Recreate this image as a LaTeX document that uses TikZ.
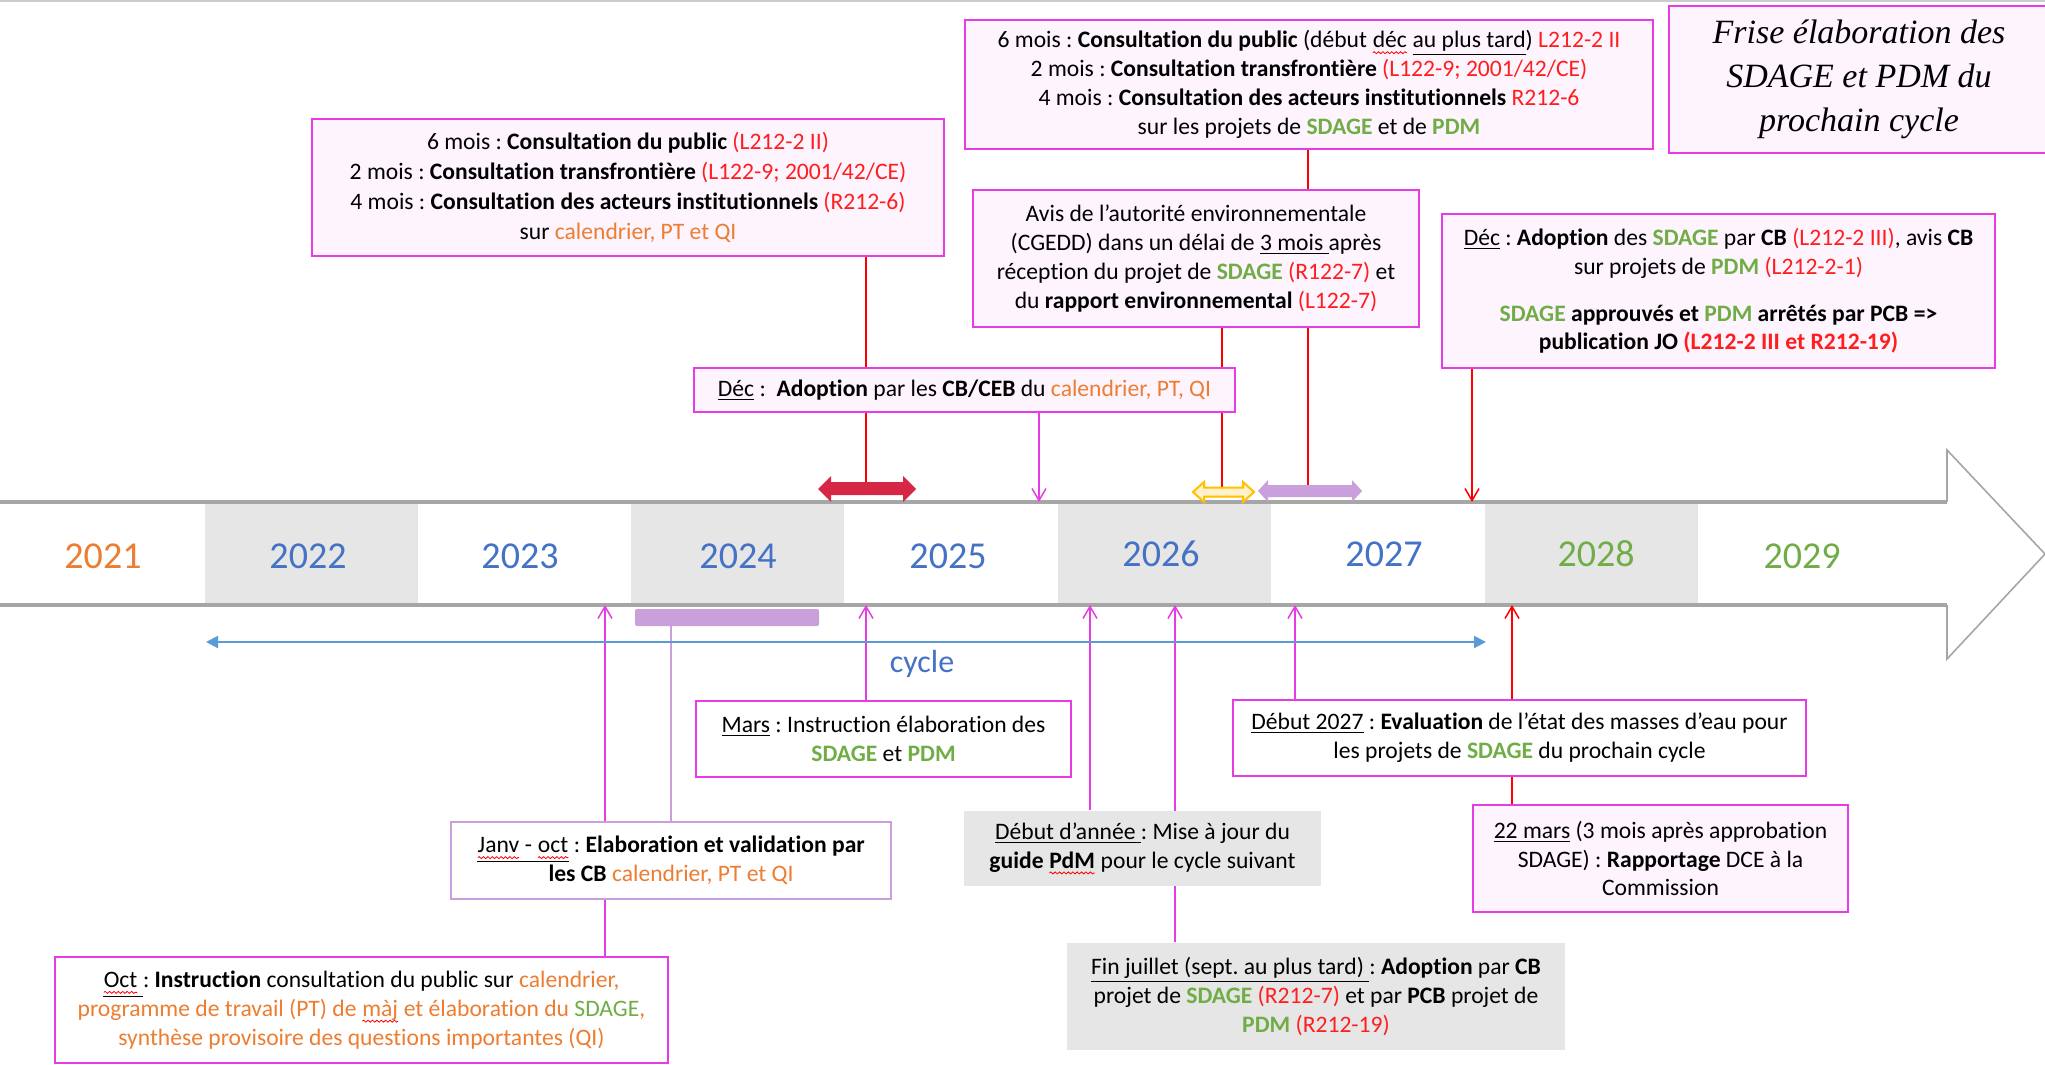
\documentclass[tikz,border=0pt]{standalone}
\usepackage{fontspec}
\setmainfont{Carlito}[Ligatures=NoCommon]
\newfontfamily\titlefont{Liberation Serif}
\usetikzlibrary{arrows.meta,backgrounds,decorations.pathmorphing}
\frenchspacing
\definecolor{mag}{RGB}{230,60,230}
\definecolor{pinkf}{RGB}{253,244,253}
\definecolor{redr}{RGB}{255,0,0}
\definecolor{txtred}{RGB}{255,30,30}
\definecolor{orng}{RGB}{237,125,49}
\definecolor{grn}{RGB}{112,173,71}
\definecolor{blu}{RGB}{68,114,196}
\definecolor{cyc}{RGB}{91,155,213}
\definecolor{cellg}{RGB}{231,230,230}
\definecolor{bandg}{RGB}{166,166,166}
\definecolor{lpurp}{RGB}{201,160,220}
\definecolor{crim}{RGB}{214,40,68}
\definecolor{ylw}{RGB}{255,192,0}
\definecolor{ylwf}{RGB}{255,242,204}
\newcommand\xred[1]{\textcolor{txtred}{#1}}
\newcommand\xorg[1]{\textcolor{orng}{#1}}
\newcommand\xgrn[1]{\textcolor{grn}{\textbf{#1}}}
\newcommand\xwavy[1]{\tikz[baseline=(w.base)]{\node[inner sep=0pt, outer sep=0pt, minimum width=0pt, minimum height=0pt, draw=none, fill=none, rectangle] (w) {#1};
  \draw[redr, line width=0.4pt, fill=none, decorate, decoration={snake, amplitude=0.5pt, segment length=2.2pt}]
   ([yshift=-2.4pt]w.base west) -- ([yshift=-2.4pt]w.base east);}}
\begin{document}
\begin{tikzpicture}[x=0.5pt,y=-0.5pt,
  box/.style={draw=mag, line width=1pt, fill=pinkf, inner sep=0pt, align=center,
    font=\fontsize{11.8}{14.4}\selectfont},
  wbox/.style={box, fill=white},
  gbox/.style={box, draw=none, fill=cellg},
  yearlbl/.style={font=\fontsize{19}{19}\selectfont, inner sep=0pt},
  magarr/.style={draw=mag, line width=0.75pt, -{Straight Barb[length=6pt,width=7pt]}},
  redarr/.style={draw=redr, line width=0.75pt, -{Straight Barb[length=6pt,width=7pt]}},
  redln/.style={draw=redr, line width=0.75pt},
  purln/.style={draw=lpurp, line width=0.75pt}]
\useasboundingbox (0,0) rectangle (2045,1065);
\begin{scope}[on background layer]
\fill[white] (0,0) rectangle (2045,1065);
\draw[line width=1pt, black!20] (0,1) -- (2045,1);
% ---- timeline band ----
\fill[white] (0,502) -- (1947,502) -- (1947,450) -- (2045,554) -- (1947,659) -- (1947,605) -- (0,605) -- cycle;
\foreach \a in {205,631,1058,1485} { \fill[cellg] (\a,504) rectangle ++(213,99); }
\draw[bandg, line width=0.8pt] (1947,502) -- (1947,450) -- (2045,554) -- (1947,659) -- (1947,605);
\draw[bandg, line width=2pt] (0,502) -- (1947,502);
\draw[bandg, line width=2pt] (0,605) -- (1947,605);
\end{scope}

\node[yearlbl, text=orng] (y2021) at (103,556) {2021};
\node[yearlbl, text=blu] (y2022) at (308,556) {2022};
\node[yearlbl, text=blu] (y2023) at (520,556) {2023};
\node[yearlbl, text=blu] (y2024) at (738,556) {2024};
\node[yearlbl, text=blu] (y2025) at (948,556) {2025};
\node[yearlbl, text=blu] (y2026) at (1161,554) {2026};
\node[yearlbl, text=blu] (y2027) at (1384,554) {2027};
\node[yearlbl, text=grn] (y2028) at (1596,554) {2028};
\node[yearlbl, text=grn] (y2029) at (1802,556) {2029};

% timeline attachment points
\coordinate (tE) at (1039,502);
\coordinate (tD) at (1472,502);
\coordinate (bK) at (605,605);
\coordinate (bF) at (866,605);
\coordinate (bI) at (1090,605);
\coordinate (bL) at (1175,605);
\coordinate (bG) at (1295,605);
\coordinate (bJ) at (1512,605);
\coordinate (bH) at (671,626);
\coordinate (redA) at (866,483);
\coordinate (ylwA) at (1222,488);
\coordinate (purA) at (1308,486);
\coordinate (cycL) at (206,642);
\coordinate (cycR) at (1486,642);

% ---- cycle ----
\draw[cyc, line width=1pt, {Triangle[length=6pt,width=6pt]}-{Triangle[length=6pt,width=6pt]}] (cycL) -- (cycR);
\node[font=\fontsize{16}{16}\selectfont, text=blu, inner sep=0pt] (cyc) at (922,664) {cycle};

% purple bar
\node[fill=lpurp, minimum width=92pt, minimum height=8.5pt, inner sep=0pt, rounded corners=1pt] (pbar) at (727,617.5) {};

% ---- block arrows ----
\fill[crim] (818,489) -- (831,476) -- (831,482) -- (903,482) -- (903,476) -- (916,489) -- (903,502) -- (903,495) -- (831,495) -- (831,502) -- cycle;
\filldraw[fill=ylwf, draw=ylw, line width=1pt] (1193,492) -- (1204,482) -- (1204,487.5) -- (1243,487.5) -- (1243,482) -- (1254,492) -- (1243,502) -- (1243,496.5) -- (1204,496.5) -- (1204,502) -- cycle;
\fill[lpurp] (1258,491) -- (1268,480) -- (1268,485) -- (1352,485) -- (1352,480) -- (1362,491) -- (1352,502) -- (1352,497) -- (1268,497) -- (1268,502) -- cycle;

% ---- boxes ----
\path
 (628,187.5) node[box, minimum width=316pt, minimum height=68.5pt, font=\fontsize{11.8}{15}\selectfont] (A) {6 mois : \textbf{Consultation du public} \xred{(L212-2 II)}\\
2 mois : \textbf{Consultation transfrontière} \xred{(L122-9; 2001/42/CE)}\\
4 mois : \textbf{Consultation des acteurs institutionnels} \xred{(R212-6)}\\
sur \xorg{calendrier, PT et QI}}
 (1309,84.5) node[box, minimum width=344pt, minimum height=64.5pt] (B) {6 mois : \textbf{Consultation du public} (début \xwavy{déc} \underline{au plus tard}) \xred{L212-2 II}\\
2 mois : \textbf{Consultation transfrontière} \xred{(L122-9; 2001/42/CE)}\\
4 mois : \textbf{Consultation des acteurs institutionnels} \xred{R212-6}\\
sur les projets de \xgrn{SDAGE} et de \xgrn{PDM}}
 (1196,258.5) node[box, minimum width=223pt, minimum height=68.5pt] (C) {Avis de l’autorité environnementale\\
(CGEDD) dans un délai de \underline{3 mois\ }après\\
réception du projet de \xgrn{SDAGE} \xred{(R122-7)} et\\
du \textbf{rapport environnemental} \xred{(L122-7)}}
 (1718.5,291) node[box, minimum width=276.5pt, minimum height=77pt] (D) {\underline{Déc} : \textbf{Adoption} des \xgrn{SDAGE} par \textbf{CB} \xred{(L212-2 III)}, avis \textbf{CB}\\
sur projets de \xgrn{PDM} \xred{(L212-2-1)}\\[9pt]
\textbf{\xgrn{SDAGE} approuvés et \xgrn{PDM} arrêtés par PCB =>}\\
\textbf{publication JO \xred{(L212-2 III et R212-19)}}}
 (964.5,390) node[box, minimum width=270.5pt, minimum height=22pt] (E) {\underline{Déc} :\ \ \textbf{Adoption} par les \textbf{CB/CEB} du \xorg{calendrier, PT, QI}}
 (1859,79.5) node[box, minimum width=190pt, minimum height=73.5pt, font=\titlefont\itshape\fontsize{17}{22}\selectfont] (T) {Frise élaboration des\\ SDAGE et PDM du\\ prochain cycle}
 (883.5,739) node[wbox, minimum width=187.5pt, minimum height=38pt] (F) {\underline{Mars} : Instruction élaboration des\\
\xgrn{SDAGE} et \xgrn{PDM}}
 (1519.5,738) node[wbox, minimum width=286.5pt, minimum height=38pt] (G) {\underline{Début 2027} : \textbf{Evaluation} de l’état des masses d’eau pour\\
les projets de \xgrn{SDAGE} du prochain cycle}
 (671,860.5) node[wbox, draw=lpurp, minimum width=220pt, minimum height=38.5pt] (H) {\underline{\xwavy{Janv} - \xwavy{oct}} : \textbf{Elaboration et validation par}\\
\textbf{les CB} \xorg{calendrier, PT et QI}}
 (1142.5,848.5) node[gbox, minimum width=178.5pt, minimum height=37.5pt] (I) {\underline{Début d’année\ }: Mise à jour du\\
\textbf{guide \xwavy{PdM}} pour le cycle suivant}
 (1660.5,858.5) node[box, minimum width=187.5pt, minimum height=53.5pt] (J) {\underline{22 mars} (3 mois après approbation\\
SDAGE) : \textbf{Rapportage} DCE à la\\
Commission}
 (361.5,1010) node[wbox, minimum width=306.5pt, minimum height=53pt] (K) {\underline{\xwavy{Oct}\ }: \textbf{Instruction} consultation du public sur \xorg{calendrier,}\\
\xorg{programme de travail (PT) de \xwavy{\xorg{màj}} et élaboration du} \textcolor{grn}{SDAGE}\xorg{,}\\
\xorg{synthèse provisoire des questions importantes (QI)}}
 (1316,996.5) node[gbox, minimum width=249pt, minimum height=53.5pt] (L) {\underline{Fin juillet (sept. au plus tard)\ }: \textbf{Adoption} par \textbf{CB}\\
projet de \xgrn{SDAGE} \xred{(R212-7)} et par \textbf{PCB} projet de\\
\xgrn{PDM} \xred{(R212-19)}};

% ---- connectors (behind boxes) ----
\begin{scope}[on background layer]
\draw[redln] (redA |- A.south) -- (redA);
\draw[magarr] (tE |- E.south) -- (tE);
\draw[redln] (purA |- B.south) -- (purA);
\draw[redln] (ylwA |- C.south) -- (ylwA);
\draw[redarr] (tD |- D.south) -- (tD);
\draw[magarr] (bK |- K.north) -- (bK);
\draw[purln] (bH) -- (bH |- H.north);
\draw[magarr] (bF |- F.north) -- (bF);
\draw[magarr] (bI |- I.north) -- (bI);
\draw[magarr] (bL |- L.north) -- (bL);
\draw[magarr] (bG |- G.north) -- (bG);
\draw[redarr] (bJ |- J.north) -- (bJ);
\end{scope}
\end{tikzpicture}
\end{document}
